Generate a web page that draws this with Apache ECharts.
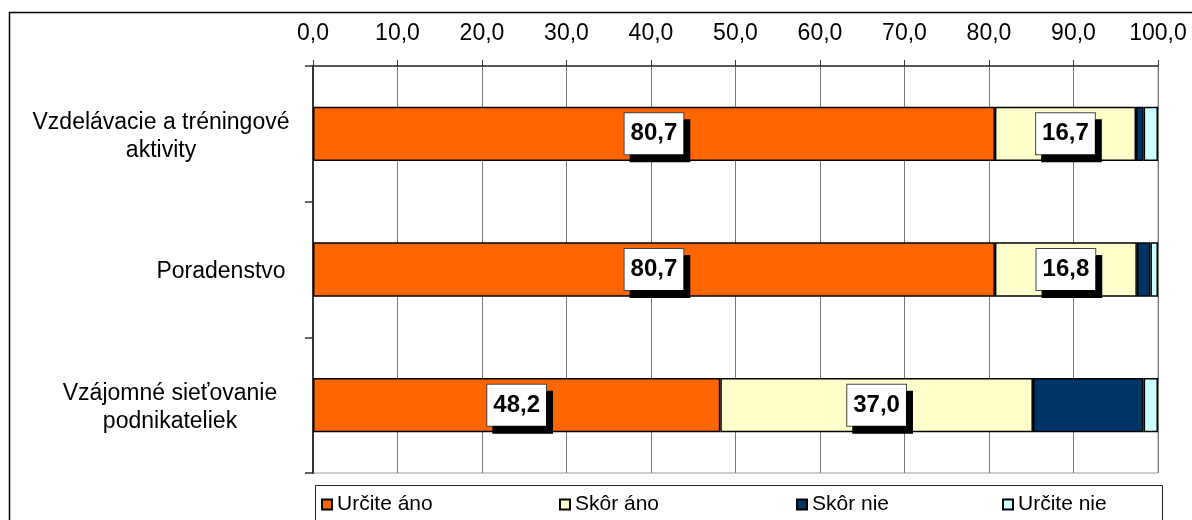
<!DOCTYPE html>
<html>
<head>
<meta charset="utf-8">
<script src="https://cdn.jsdelivr.net/npm/echarts@6/dist/echarts.min.js"></script>
<style>
  html, body { margin: 0; padding: 0; background: #fff; }
  #chart { width: 1192px; height: 520px; }
</style>
</head>
<body>
<div id="chart"></div>
<script>
// Categories, top to bottom
const categories = [
  'Vzdelávacie a tréningové\naktivity',
  'Poradenstvo',
  'Vzájomné sieťovanie\npodnikateliek'
];
// Answer shares in percent
const urciteAno = [80.7, 80.7, 48.2];
const skorAno   = [16.7, 16.8, 37.0];
const skorNie   = [0.9, 1.6, 13.1];
const urciteNie = [1.7, 0.9, 1.7];
const seriesNames = ['Určite áno', 'Skôr áno', 'Skôr nie', 'Určite nie'];
const tickMin = 0, tickMax = 100, tickStep = 10;

const colors = ['#FF6600', '#FFFFCC', '#003366', '#CCFFFF'];
const font = '"Liberation Sans", Arial, sans-serif';

const chart = echarts.init(document.getElementById('chart'), null, { renderer: 'canvas' });

const fmt = v => v.toFixed(1).replace('.', ',');

const valueLabel = {
  show: true,
  position: 'inside',
  formatter: p => fmt(p.value),
  fontFamily: font,
  fontWeight: 'bold',
  fontSize: 24,
  color: '#000',
  backgroundColor: '#fff',
  borderColor: '#444',
  borderWidth: 1,
  padding: [9, 6, 8, 6],
  shadowColor: '#000',
  shadowBlur: 0,
  shadowOffsetX: 6,
  shadowOffsetY: 7
};

// Per-category label block widths, so each line is centred inside its block
const catText = { align: 'center', fontSize: 23, fontFamily: font, color: '#000', lineHeight: 28 };
const labelRich = {
  r0: Object.assign({ width: 262 }, catText),
  r1: Object.assign({ width: 142 }, catText),
  r2: Object.assign({ width: 244 }, catText)
};

function makeSeries(name, data, color, withLabel) {
  return {
    name: name,
    type: 'bar',
    stack: 'all',
    data: data,
    barWidth: '40%',
    itemStyle: { color: color, borderColor: '#000', borderWidth: 1.5 },
    label: withLabel ? valueLabel : { show: false },
    emphasis: { disabled: true }
  };
}

const legendLefts = [321, 559, 796, 1002];
const legends = seriesNames.map((n, i) => ({
  data: [n],
  left: legendLefts[i],
  top: 494,
  itemWidth: 10,
  itemHeight: 10,
  itemGap: 4,
  icon: 'rect',
  padding: 0,
  textStyle: { fontFamily: font, fontSize: 21, color: '#000', padding: [2, 0, 0, 0] }
}));

chart.setOption({
  animation: false,
  backgroundColor: '#fff',
  color: colors,
  graphic: [
    {
      type: 'rect', z: -10,
      shape: { x: 9.5, y: 12.5, width: 1300, height: 600 },
      style: { fill: 'none', stroke: '#000', lineWidth: 1.5 }
    },
    {
      type: 'rect', z: -10,
      shape: { x: 315.5, y: 485.5, width: 847, height: 60 },
      style: { fill: '#fff', stroke: '#222', lineWidth: 1 }
    }
  ],
  legend: legends,
  grid: {
    left: 313, right: 34, top: 66, bottom: 47,
    show: true, borderColor: '#999', borderWidth: 1, backgroundColor: 'transparent'
  },
  xAxis: {
    type: 'value',
    position: 'top',
    min: tickMin, max: tickMax, interval: tickStep,
    axisLine: { show: true, lineStyle: { color: '#333', width: 1.5 } },
    axisTick: { show: true, inside: false, length: 6, lineStyle: { color: '#333', width: 1 } },
    splitLine: { show: true, lineStyle: { color: '#777', width: 1 } },
    axisLabel: { formatter: v => fmt(v), fontFamily: font, fontSize: 23, color: '#000', margin: 21 }
  },
  yAxis: {
    type: 'category',
    inverse: true,
    data: categories,
    axisLine: { show: true, lineStyle: { color: '#333', width: 2 } },
    axisTick: { show: true, inside: false, length: 8, lineStyle: { color: '#333', width: 1.5 } },
    splitLine: { show: false },
    axisLabel: {
      margin: 21,
      align: 'right',
      padding: [5, 0, 0, 0],
      formatter: (v, i) => v.split('\n').map(l => '{r' + i + '|' + l + '}').join('\n'),
      rich: labelRich
    }
  },
  series: [
    makeSeries(seriesNames[0], urciteAno, colors[0], true),
    makeSeries(seriesNames[1], skorAno, colors[1], true),
    makeSeries(seriesNames[2], skorNie, colors[2], false),
    makeSeries(seriesNames[3], urciteNie, colors[3], false)
  ]
});
</script>
</body>
</html>
